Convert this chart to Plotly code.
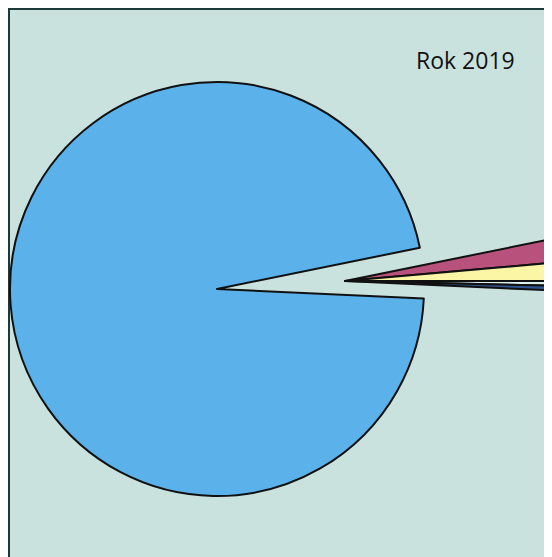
import plotly.graph_objects as go

# Data (shares in %)
categories = ["Kategoria A", "Kategoria B", "Kategoria C", "Kategoria D", "Kategoria E"]
values = [1.8, 1.4, 0.36, 0.36, 96.08]
colors = ["#b8527c", "#fbf5a6", "#dcefee", "#2f5590", "#5bb1ea"]
title_text = "Rok 2019"

OFF = 8  # page body margin
W, H = 552 - OFF, 557 - OFF
BG = "#c9e2de"
TRANSP = "rgba(0,0,0,0)"

def dom(cx, cy, r):
    cx -= OFF
    cy -= OFF
    return dict(x=[(cx - r) / W, (cx + r) / W],
                y=[(H - cy - r) / H, (H - cy + r) / H])

# main pie: only the large slice visible
main_colors = [TRANSP] * 4 + [colors[4]]
main_lines = [TRANSP] * 4 + ["#111111"]
# pulled-out group: only the small slices visible
pull_colors = colors[:4] + [TRANSP]
pull_lines = ["#111111"] * 4 + [TRANSP]

common = dict(labels=categories, values=values, sort=False, direction="clockwise",
              rotation=78.5, textinfo="none", hoverinfo="label+percent", showlegend=False)

fig = go.Figure()
fig.add_trace(go.Pie(**common, domain=dom(217, 289, 207),
                     marker=dict(colors=main_colors, line=dict(color=main_lines, width=2))))
fig.add_trace(go.Pie(**common, domain=dom(345, 281, 207),
                     marker=dict(colors=pull_colors, line=dict(color=pull_lines, width=2))))

fig.update_layout(
    width=W, height=H, autosize=False,
    margin=dict(l=0, r=0, t=0, b=0),
    paper_bgcolor=BG,
    shapes=[dict(type="rect", xref="paper", yref="paper", layer="below",
                 x0=1 / W, x1=1.2, y0=-0.2, y1=(H - 1) / H,
                 fillcolor=BG, line=dict(color="#1d3a3a", width=2))],
    annotations=[dict(text=title_text, x=(465 - OFF) / W, y=(H - 60 + OFF) / H,
                      xref="paper", yref="paper",
                      xanchor="center", yanchor="middle", showarrow=False,
                      font=dict(family="Open Sans", size=23, color="#111111"))],
)

fig.write_html("out.html")
